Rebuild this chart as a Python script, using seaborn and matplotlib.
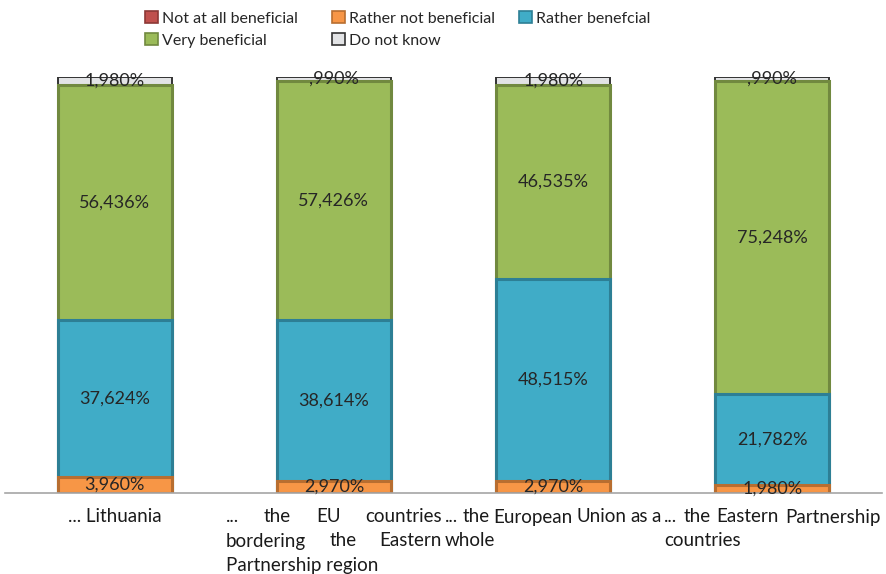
import matplotlib
matplotlib.use("Agg")
import matplotlib.pyplot as plt
from matplotlib.patches import Patch
import numpy as np
import pandas as pd
import seaborn as sns

# ---- data ----
categories = [
    "... Lithuania",
    "... the EU countries\nbordering the Eastern\nPartnership region",
    "... the European Union as a\nwhole",
    "... the Eastern Partnership\ncountries",
]
series_names = ["Not at all beneficial", "Rather not beneficial", "Rather benefcial",
                "Very beneficial", "Do not know"]
not_at_all = [0.0, 0.0, 0.0, 0.0]
rather_not = [3.960, 2.970, 2.970, 1.980]
rather = [37.624, 38.614, 48.515, 21.782]
very = [56.436, 57.426, 46.535, 75.248]
dont_know = [1.980, 0.990, 1.980, 0.990]

values = [not_at_all, rather_not, rather, very, dont_know]
fills = ["#C0504D", "#F79646", "#40ACC7", "#9BBB59", "#E2E3E5"]
edges = ["#8C3836", "#B86E30", "#2D7F95", "#71893F", "#333333"]
lws = [2.2, 2.2, 2.2, 2.2, 1.4]

FONT = "Lato"
FS_LBL = 13
FS_CAT = 13.5
FS_LEG = 11.5
sns.set_theme(style="white")
plt.rcParams["font.family"] = [FONT, "DejaVu Sans"]
FAM = [FONT, "DejaVu Sans"]

W, H = 887, 574
fig = plt.figure(figsize=(W / 100, H / 100), dpi=100)
ax = fig.add_axes([5 / W, (H - 493) / H, 877 / W, (493 - 77) / H])

x_idx = list(range(len(categories)))
cum = np.cumsum(np.array(values), axis=0)

# draw cumulative bars from the top series down
for k in range(len(values) - 1, -1, -1):
    if np.allclose(values[k], 0):
        continue
    df = pd.DataFrame({"cat": x_idx, "val": cum[k]})
    sns.barplot(data=df, x="cat", y="val", color=fills[k], saturation=1,
                edgecolor=edges[k], linewidth=lws[k], width=0.52, ax=ax,
                native_scale=True)

def fmt(v):
    s = f"{v:.3f}".replace(".", ",")
    if s.startswith("0"):
        s = s[1:]
    return s + "%"

for k in range(len(values)):
    for i in x_idx:
        v = values[k][i]
        if v <= 0:
            continue
        bottom = cum[k][i] - v
        ax.text(i, bottom + v / 2, fmt(v), ha="center", va="center",
                fontsize=FS_LBL, color="#262626", family=FAM)

ax.set_xlim(-0.5, 3.5)
ax.set_ylim(0, 100)
ax.set_xticks([])
ax.set_yticks([])
ax.set_xlabel("")
ax.set_ylabel("")
for s in ["left", "right", "top"]:
    ax.spines[s].set_visible(False)
ax.spines["bottom"].set_color("#A6A6A6")
ax.spines["bottom"].set_linewidth(1.2)

# ---- justified category labels ----
fig.canvas.draw()
renderer = fig.canvas.get_renderer()

def width_px(s):
    t = fig.text(0, 0, s, fontsize=FS_CAT, family=FAM)
    w = t.get_window_extent(renderer).width
    t.remove()
    return w

half_box = 108
line_y0 = 517
line_gap = 24
for i, lab in enumerate(categories):
    cx = ax.transData.transform((i, 0))[0]
    left, right = cx - half_box, cx + half_box
    lines = lab.split("\n")
    for j, line in enumerate(lines):
        yf = 1 - (line_y0 + j * line_gap) / H
        if len(lines) == 1:
            fig.text(cx / W, yf, line, ha="center", va="center", fontsize=FS_CAT,
                     color="#1a1a1a", family=FAM)
            continue
        words = line.split(" ")
        if j == len(lines) - 1 or len(words) == 1:
            fig.text(left / W, yf, line, ha="left", va="center", fontsize=FS_CAT,
                     color="#1a1a1a", family=FAM)
            continue
        ws = [width_px(w) for w in words]
        gap = (right - left - sum(ws)) / (len(words) - 1)
        x = left
        for w, wd in zip(words, ws):
            fig.text(x / W, yf, w, ha="left", va="center", fontsize=FS_CAT,
                     color="#1a1a1a", family=FAM)
            x += wd + gap

# ---- legend (three fixed-width columns, row-major order) ----
handles = [Patch(facecolor=fills[k], edgecolor=edges[k], linewidth=1.2)
           for k in range(len(series_names))]
cols = [[0, 3], [1, 4], [2]]
col_x = [145, 332, 519]
for cx_, idxs in zip(col_x, cols):
    fig.legend([handles[k] for k in idxs], [series_names[k] for k in idxs],
               loc="upper left", bbox_to_anchor=(cx_ / W, 1 - 11 / H),
               frameon=False, borderpad=0, borderaxespad=0,
               handlelength=0.8, handleheight=0.8, handletextpad=0.25,
               labelspacing=0.45, prop={"family": FAM, "size": FS_LEG})

fig.savefig("out.png", dpi=100)
